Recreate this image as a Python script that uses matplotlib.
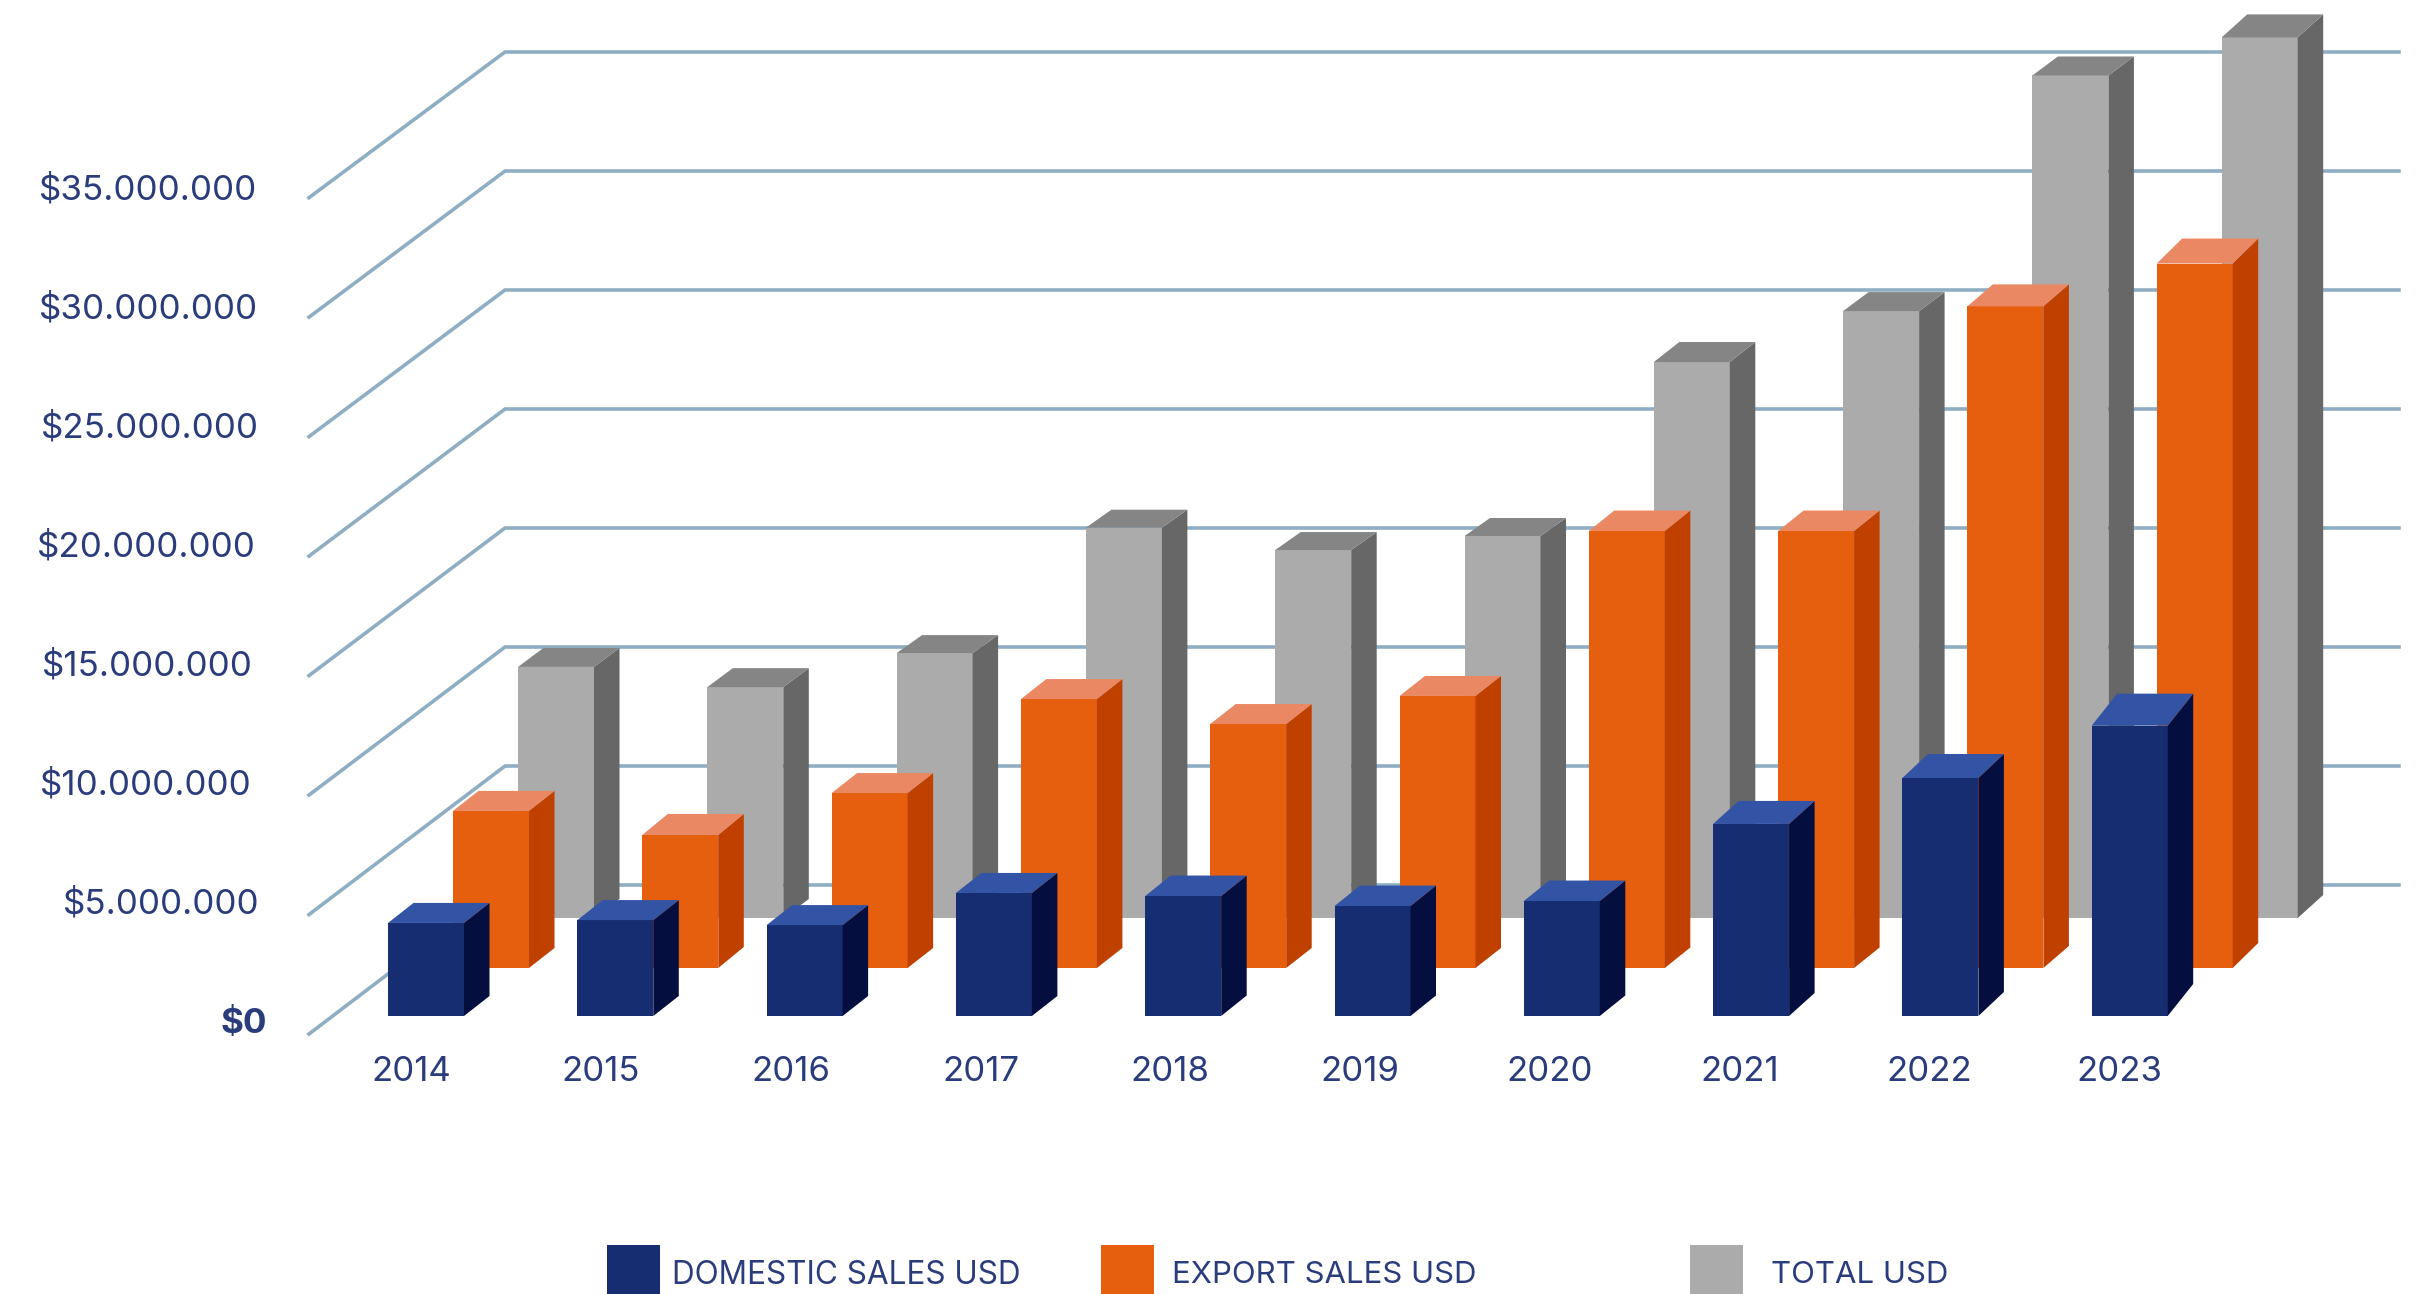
import matplotlib
matplotlib.use("Agg")
import matplotlib.pyplot as plt
from matplotlib.patches import Rectangle
from matplotlib.transforms import Affine2D

years = ["2014", "2015", "2016", "2017", "2018", "2019", "2020", "2021", "2022", "2023"]
domestic = [3.91, 4.03, 3.82, 5.17, 5.04, 4.62, 4.83, 8.07, 10.0, 12.2]
export = [6.6, 5.59, 7.35, 11.3, 10.25, 11.43, 18.36, 18.36, 27.8, 29.6]
total = [10.55, 9.7, 11.13, 16.4, 15.46, 16.05, 23.36, 25.5, 35.4, 37.0]
y_ticks = [0, 5, 10, 15, 20, 25, 30, 35]
y_labels = ["$0", "$5.000.000", "$10.000.000", "$15.000.000", "$20.000.000",
            "$25.000.000", "$30.000.000", "$35.000.000"]
legend_names = ["DOMESTIC SALES USD", "EXPORT SALES USD", "TOTAL USD"]

W, H = 2423, 1294
PX_X = 189.3      # pixels per category
PX_Y = 23.8       # pixels per million USD
LEFT, BOTTOM = 309, 1046
ORIGIN_X, ORIGIN_Y = 411, 1020   # pixel position of category 0, value 0
TEXT = "#2B3C7D"
FONT = "Inter"

plt.rcParams["font.family"] = [FONT, "DejaVu Sans"]
fig = plt.figure(figsize=(W / 100, H / 100), dpi=100, facecolor="white")
ax = fig.add_axes([LEFT / W, (H - BOTTOM) / H, (W - LEFT) / W, BOTTOM / H])
ax.set_xlim((LEFT - ORIGIN_X) / PX_X, (W - ORIGIN_X) / PX_X)
ax.set_ylim((ORIGIN_Y - BOTTOM) / PX_Y, ORIGIN_Y / PX_Y)
for s in ax.spines.values():
    s.set_visible(False)
ax.patch.set_alpha(0)

ax.set_xticks([i * 1.0027 for i in range(len(years))], years)
ax.set_yticks(y_ticks, y_labels)
ax.tick_params(axis="x", length=0, pad=7, labelsize=25, labelcolor=TEXT)
ax.tick_params(axis="y", length=0, pad=37, labelsize=25.2, labelcolor=TEXT)
ax.get_yticklabels()[0].set_fontweight("bold")
label_nudge = [9, 1.5, -6, -5, -1.5, 1.5, 0, 0]
for lab, n in zip(ax.get_yticklabels(), label_nudge):
    lab.set_transform(lab.get_transform() + Affine2D().translate(n, 0))


def dx(p):
    return p / PX_X


def dy(p):
    return p / PX_Y


# gridlines: front-left end -> back wall -> right end
GRID = "#8FAEC3"
for v in y_ticks:
    yf = v * 1.004 - dy(14)
    yb = v + dy(135)
    x0, xb, x1 = dx(LEFT - ORIGIN_X), dx(505 - ORIGIN_X), dx(2399 - ORIGIN_X)
    ax.plot([x0, xb, x1], [yf, yb, yb], color=GRID, lw=2.6, zorder=1,
            solid_joinstyle="miter", clip_on=False)

BAR_W = 76 / PX_X
DEPTH_X = 25.5
series = [
    # values, plane x offset, plane y offset, face colours, depth rise per year
    (total, 107, -102, "#ABABAB", "#676767", "#858585",
     [19, 19, 18, 18, 18, 18, 20, 19, 19, 23]),
    (export, 42, -52, "#E65F0E", "#C04000", "#E98863",
     [20, 21, 20, 20, 20, 20, 20.5, 20.5, 22, 25]),
    (domestic, -23, -4, "#162D72", "#040F40", "#3353A5",
     [20, 20, 20, 20, 20.5, 20.5, 20.5, 23, 24, 32]),
]
z = 3
for vals, ox, oy, front, side, top, rises in series:
    for i, v in enumerate(vals):
        xl = i + dx(ox)
        xr = xl + BAR_W
        y0 = -dy(oy)
        y1 = y0 + v
        ddx, ddy = dx(DEPTH_X), dy(rises[i])
        ax.bar(xl, v, width=BAR_W, bottom=y0, align="edge", color=front, zorder=z, linewidth=0)
        ax.fill([xr, xr + ddx, xr + ddx, xr], [y0, y0 + ddy, y1 + ddy, y1],
                color=side, zorder=z, linewidth=0)
        ax.fill([xl, xr, xr + ddx, xl + ddx], [y1, y1, y1 + ddy, y1 + ddy],
                color=top, zorder=z, linewidth=0)
    z += 1

ax.set_xlim((LEFT - ORIGIN_X) / PX_X, (W - ORIGIN_X) / PX_X)
ax.set_ylim((ORIGIN_Y - BOTTOM) / PX_Y, ORIGIN_Y / PX_Y)

# legend, cut by the bottom edge of the picture as in the reference
swatches = [(607, "#162D72", 672, 22.7), (1101, "#E65F0E", 1172, 22.4), (1690, "#ABABAB", 1771, 22.4)]
for (sx, c, tx, fs), name in zip(swatches, legend_names):
    fig.add_artist(Rectangle((sx / W, 0), 53 / W, (H - 1245) / H, transform=fig.transFigure,
                             facecolor=c, edgecolor="none"))
    fig.text(tx / W, (H - 1275) / H, name, color=TEXT, fontsize=fs, va="center", ha="left")

fig.savefig("out.png", dpi=100, facecolor="white")
